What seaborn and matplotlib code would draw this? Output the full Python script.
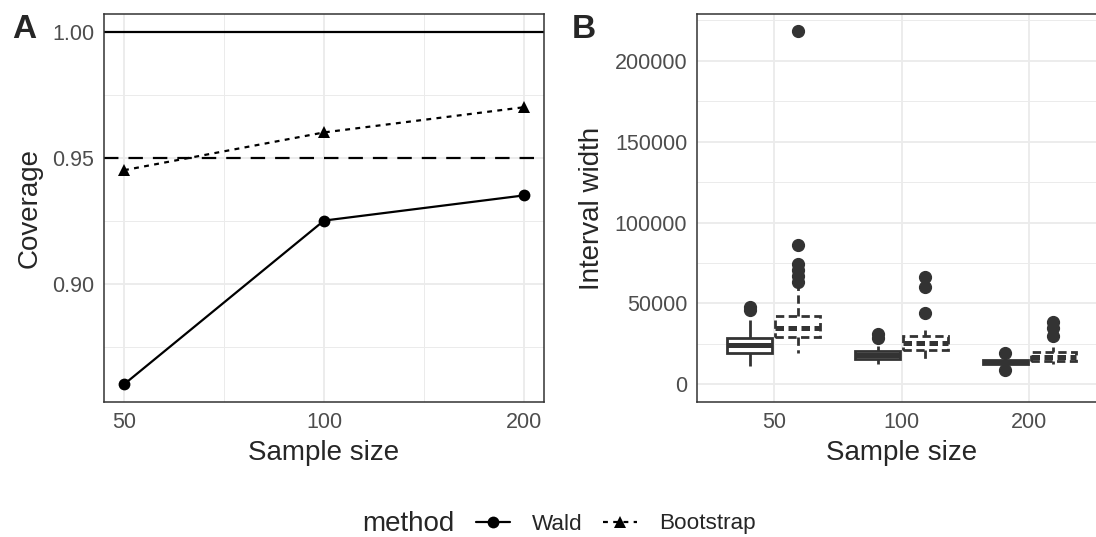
import numpy as np
import pandas as pd
import matplotlib
matplotlib.use("Agg")
import matplotlib.pyplot as plt
from matplotlib.ticker import FixedLocator, MultipleLocator, NullLocator, NullFormatter
import seaborn as sns

# ---- data ----
sample_sizes = [50, 100, 200]
methods = ["Wald", "Bootstrap"]
wald_coverage = [0.860, 0.925, 0.935]
boot_coverage = [0.945, 0.960, 0.970]

# interval widths per simulated replicate (estimated from the boxplots)
wald_50 = [11100, 15000, 17500, 19400, 21000, 22800, 24200, 25800, 27300,
           28700, 39600, 45800, 47500]
boot_50 = [19400, 22000, 24000, 25500, 26800, 27800, 28600, 29300, 30200,
           31000, 31800, 32600, 33300, 33900, 34500, 35500, 36600, 37800,
           39000, 40200, 41300, 42300, 59400, 63500, 67000, 70500, 74500,
           86000, 218500]
wald_100 = [12400, 14000, 15000, 15700, 16400, 17200, 18000, 18700, 19600,
            20600, 23500, 28500, 30800]
boot_100 = [14200, 17000, 18800, 20000, 21000, 22200, 23300, 24300, 25200,
            26400, 27600, 28700, 29800, 33400, 44100, 59900, 66400]
wald_200 = [8700, 11500, 12800, 13400, 14000, 14500, 14900, 16500, 19400]
boot_200 = [12800, 13400, 13800, 14100, 14400, 15000, 15700, 16300, 16900,
            17700, 18500, 19300, 20000, 23100, 29700, 34500, 38600]

cov_df = pd.DataFrame({
    "n": sample_sizes * 2,
    "method": ["Wald"] * 3 + ["Bootstrap"] * 3,
    "coverage": wald_coverage + boot_coverage,
})

width_groups = {
    ("Wald", 50): wald_50, ("Bootstrap", 50): boot_50,
    ("Wald", 100): wald_100, ("Bootstrap", 100): boot_100,
    ("Wald", 200): wald_200, ("Bootstrap", 200): boot_200,
}
rows = []
for (m, n), vals in width_groups.items():
    for v in vals:
        rows.append({"n": n, "method": m, "width": v})
width_df = pd.DataFrame(rows)

# ---- style ----
sns.set_style("white")
plt.rcParams["font.family"] = ["Liberation Sans", "DejaVu Sans"]
GRID = "#EBEBEB"
DARK = "#333333"
TICKTXT = "#4D4D4D"

W, H = 1096, 537
fig = plt.figure(figsize=(W / 100, H / 100), dpi=100)
top, bottom = 14, 402
axA = fig.add_axes([104 / W, 1 - bottom / H, (544 - 104) / W, (bottom - top) / H])
axB = fig.add_axes([697 / W, 1 - bottom / H, (1106 - 697) / W, (bottom - top) / H])

# ---- panel A: coverage ----
axA.axhline(1.0, color="black", lw=1.6, zorder=2)
axA.axhline(0.95, color="black", lw=1.6, ls=(0, (6.5, 4.5)), zorder=2)
sns.lineplot(data=cov_df, x="n", y="coverage", style="method", style_order=methods,
             markers={"Wald": "o", "Bootstrap": "^"},
             dashes={"Wald": "", "Bootstrap": (2.2, 2.4)},
             color="black", linewidth=1.6, markersize=8.5, markeredgewidth=0,
             errorbar=None, ax=axA, zorder=3)
handles, labels = axA.get_legend_handles_labels()
keep = [(h, l) for h, l in zip(handles, labels) if l in methods]
axA.get_legend().remove()

axA.set_xscale("log", base=2)
axA.set_xlim(50 * 2 ** -0.1, 200 * 2 ** 0.1)
axA.xaxis.set_major_locator(FixedLocator(sample_sizes))
axA.set_xticklabels([str(s) for s in sample_sizes])
axA.xaxis.set_minor_locator(FixedLocator([np.sqrt(50 * 100), np.sqrt(100 * 200)]))
axA.xaxis.set_minor_formatter(NullFormatter())
axA.set_ylim(0.853, 1.007)
axA.yaxis.set_major_locator(FixedLocator([0.90, 0.95, 1.00]))
axA.set_yticklabels(["0.90", "0.95", "1.00"])
axA.yaxis.set_minor_locator(FixedLocator([0.875, 0.925, 0.975]))
axA.yaxis.set_minor_formatter(NullFormatter())
axA.set_xlabel("Sample size", fontsize=20, labelpad=5)
axA.set_ylabel("Coverage", fontsize=20, labelpad=7)

# ---- panel B: interval width boxplots ----
pal = {"Wald": "white", "Bootstrap": "white"}
box_kw = dict(x="n", y="width", hue="method", hue_order=methods, palette=pal,
              dodge=True, width=0.75, gap=0.06, linecolor=DARK, linewidth=2.0,
              fliersize=8.5, showcaps=False, legend=False, ax=axB,
              medianprops={"linewidth": 3.6},
              flierprops={"marker": "o", "markerfacecolor": DARK,
                          "markeredgecolor": DARK})
sns.boxplot(data=width_df[width_df["method"] == "Wald"], **box_kw)
n_lines, n_patches = len(axB.lines), len(axB.patches)
sns.boxplot(data=width_df[width_df["method"] == "Bootstrap"], **box_kw)

for p in axB.patches[n_patches:]:
    p.set_linestyle((0, (3.0, 1.6)))
for ln in axB.lines[n_lines:]:
    if ln.get_linestyle() in ("None", "none", ""):
        continue
    if ln.get_linewidth() > 2.5:
        ln.set_linestyle((0, (1.7, 0.9)))
    else:
        ln.set_linestyle((0, (3.0, 1.6)))

axB.set_xlim(-0.6, 2.6)
axB.set_ylim(-11000, 229000)
axB.yaxis.set_major_locator(MultipleLocator(50000))
axB.yaxis.set_minor_locator(MultipleLocator(25000))
axB.yaxis.set_minor_formatter(NullFormatter())
axB.xaxis.set_minor_locator(NullLocator())
axB.set_xlabel("Sample size", fontsize=20, labelpad=5)
axB.set_ylabel("Interval width", fontsize=20, labelpad=7)

for ax in (axA, axB):
    ax.set_axisbelow(True)
    ax.grid(which="major", color=GRID, lw=1.3)
    ax.grid(which="minor", color=GRID, lw=0.7)
    for s in ax.spines.values():
        s.set_color(DARK)
        s.set_linewidth(1.1)
    ax.tick_params(which="major", length=4, width=1.1, color=DARK,
                   labelsize=15.5, labelcolor=TICKTXT, pad=3)
    ax.tick_params(which="minor", length=0)

# panel tags
fig.text(12 / W, 1 - 29 / H, "A", fontsize=24, fontweight="bold", va="center")
fig.text(572 / W, 1 - 29 / H, "B", fontsize=24, fontweight="bold", va="center")

# legend along the bottom
fig.text(362 / W, 1 - 524 / H, "method", fontsize=20, va="center")
fig.legend([h for h, _ in keep], [l for _, l in keep], loc="center left",
           bbox_to_anchor=(476 / W, 1 - 524 / H), ncol=2, frameon=False,
           fontsize=16.2, handlelength=1.5, handletextpad=1.0,
           columnspacing=0.9, borderpad=0, borderaxespad=0)

fig.savefig("out.png", dpi=100)
